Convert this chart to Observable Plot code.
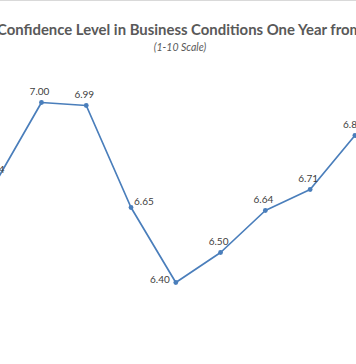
<!DOCTYPE html>
<html>
<head>
<meta charset="utf-8">
<script src="https://cdn.jsdelivr.net/npm/d3@7"></script>
<script src="https://cdn.jsdelivr.net/npm/@observablehq/plot@0.6"></script>
<style>
  html, body { margin: 0; padding: 0; background: #fff; }
  #wrap { position: relative; width: 356px; height: 364px; overflow: hidden; background: #fff; font-family: Lato, "Open Sans", sans-serif; }
  #topline { position: absolute; left: 0; top: 0; width: 356px; height: 1px; background: #d9d9d9; }
  #head { position: relative; height: 60px; }
  #title { position: absolute; left: -3px; top: 0; white-space: nowrap; font-weight: bold; color: #595959; font-size: 16.5px; line-height: 1; }
  #subtitle { position: absolute; left: 0; width: 360px; text-align: center; top: 42px; font-style: italic; color: #595959; font-size: 10.5px; line-height: 1; }
  #chart svg { display: block; overflow: visible; }
</style>
</head>
<body>
<div id="wrap">
  <div id="topline"></div>
  <div id="head">
    <div id="title"></div>
    <div id="subtitle"></div>
  </div>
  <div id="chart"></div>
</div>
<script>
const titleText = "Confidence Level in Business Conditions One Year from Now";
const subtitleText = "(1-10 Scale)";
const periods = [0, 1, 2, 3, 4, 5, 6, 7, 8];
const values = [6.74, 7.00, 6.99, 6.65, 6.40, 6.50, 6.64, 6.71, 6.89];
const labelsRight = [6.65];
const labelsLeft = [6.40];

const data = periods.map((p, i) => ({period: p, value: values[i]}));
const fmt = d3.format(".2f");
const blue = "#4a7ebb";

// Title sizing: fit the visible prefix to the reference width
const titleEl = document.getElementById("title");
titleEl.textContent = titleText;
const ctx = document.createElement("canvas").getContext("2d");
let fs = 16.5;
ctx.font = `bold ${fs}px Lato`;
const w = ctx.measureText("Confidence Level in Business Conditions One Year").width;
fs = fs * 331 / w;
titleEl.style.fontSize = fs + "px";
titleEl.style.top = (34 - fs * 0.8) + "px";
document.getElementById("subtitle").textContent = subtitleText;

const chart = Plot.plot({
  width: 356,
  height: 304,
  margin: 0,
  style: {fontFamily: "Lato, 'Open Sans', sans-serif", background: "transparent"},
  x: {type: "linear", domain: [0, 8], range: [-3.8, 354.4], axis: null},
  y: {domain: [6.4, 7.0], range: [222, 42], axis: null},
  marks: [
    Plot.line(data, {x: "period", y: "value", stroke: blue, strokeWidth: 1.7}),
    Plot.dot(data, {x: "period", y: "value", r: 2.4, fill: blue, stroke: "none"}),
    Plot.text(data.filter(d => !labelsRight.includes(d.value) && !labelsLeft.includes(d.value)),
      {x: "period", y: "value", text: d => fmt(d.value), dy: -11, dx: -2, fill: "#404040", fontSize: 10}),
    Plot.text(data.filter(d => labelsRight.includes(d.value)),
      {x: "period", y: "value", text: d => fmt(d.value), dy: -6, dx: 3, textAnchor: "start", fill: "#404040", fontSize: 10}),
    Plot.text(data.filter(d => labelsLeft.includes(d.value)),
      {x: "period", y: "value", text: d => fmt(d.value), dy: -3, dx: -6, textAnchor: "end", fill: "#404040", fontSize: 10})
  ]
});
document.getElementById("chart").appendChild(chart);
</script>
</body>
</html>
